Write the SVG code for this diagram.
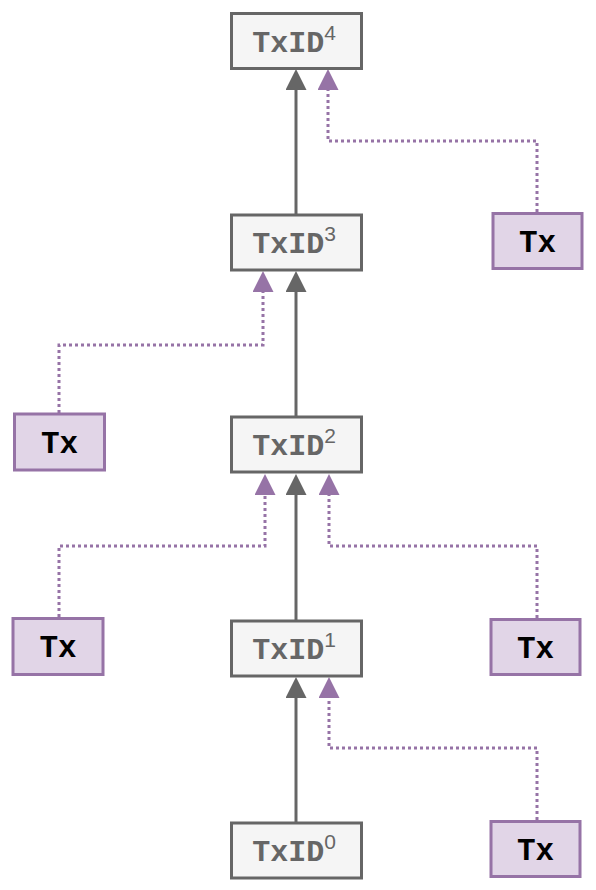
<svg xmlns="http://www.w3.org/2000/svg" width="596" height="890" viewBox="0 0 596 890">
<style>
.id rect{fill:#f5f5f5;stroke:#666666;stroke-width:3}
.tx rect{fill:#e1d5e7;stroke:#9673a6;stroke-width:3}
.id text{font-family:"Liberation Mono","Courier New",monospace;font-weight:bold;font-size:30px;fill:#666666}
.id tspan{font-family:"Liberation Sans",Arial,sans-serif;font-weight:normal;font-size:21px}
.tx text{font-family:"Liberation Mono","Courier New",monospace;font-weight:bold;font-size:31px;fill:#000000}
.solid{fill:none;stroke:#666666;stroke-width:3}
.dot{fill:none;stroke:#9673a6;stroke-width:3;stroke-dasharray:3 3}
</style>
<defs>
<marker id="ag" viewBox="0 0 21 21" refX="0" refY="10.5" markerWidth="21" markerHeight="21" markerUnits="userSpaceOnUse" orient="auto"><path d="M0,0 L21,10.5 L0,21 z" fill="#666666"/></marker>
<marker id="ap" viewBox="0 0 21 21" refX="0" refY="10.5" markerWidth="21" markerHeight="21" markerUnits="userSpaceOnUse" orient="auto"><path d="M0,0 L21,10.5 L0,21 z" fill="#9673a6"/></marker>
</defs>
<g id="connectors">
<path class="solid" d="M296,214 V90" marker-end="url(#ag)"/>
<path class="solid" d="M296,416 V292" marker-end="url(#ag)"/>
<path class="solid" d="M296,620 V495" marker-end="url(#ag)"/>
<path class="solid" d="M296,822 V698" marker-end="url(#ag)"/>
<path class="dot" d="M537,212 V141 H328 V90" marker-end="url(#ap)"/>
<path class="dot" d="M59,413 V345 H263 V292" marker-end="url(#ap)"/>
<path class="dot" d="M59,617 V546 H265 V495" marker-end="url(#ap)"/>
<path class="dot" d="M537,618 V546 H329 V495" marker-end="url(#ap)"/>
<path class="dot" d="M537,820 V748 H329 V698" marker-end="url(#ap)"/>
</g>
<g id="txid4" class="id"><rect x="231.5" y="13.5" width="130" height="55"/><text x="294" y="52" text-anchor="middle">TxID<tspan dy="-12">4</tspan></text></g>
<g id="txid3" class="id"><rect x="231.5" y="215" width="130" height="55"/><text x="294" y="253" text-anchor="middle">TxID<tspan dy="-12">3</tspan></text></g>
<g id="txid2" class="id"><rect x="231.5" y="417" width="130" height="55"/><text x="294" y="455" text-anchor="middle">TxID<tspan dy="-12">2</tspan></text></g>
<g id="txid1" class="id"><rect x="231.5" y="621" width="130" height="55"/><text x="294" y="659" text-anchor="middle">TxID<tspan dy="-12">1</tspan></text></g>
<g id="txid0" class="id"><rect x="231.5" y="823" width="130" height="55"/><text x="294" y="861" text-anchor="middle">TxID<tspan dy="-12">0</tspan></text></g>
<g id="tx-r3" class="tx"><rect x="493" y="213.5" width="89" height="55"/><text x="537.5" y="252" text-anchor="middle">Tx</text></g>
<g id="tx-l2" class="tx"><rect x="14.5" y="414" width="90" height="56"/><text x="59.5" y="453" text-anchor="middle">Tx</text></g>
<g id="tx-l1" class="tx"><rect x="13" y="618.5" width="90" height="56"/><text x="58" y="657" text-anchor="middle">Tx</text></g>
<g id="tx-r1" class="tx"><rect x="491" y="619.5" width="89" height="55"/><text x="535.5" y="658" text-anchor="middle">Tx</text></g>
<g id="tx-r0" class="tx"><rect x="491" y="821.5" width="89" height="55"/><text x="535.5" y="860" text-anchor="middle">Tx</text></g>
</svg>
